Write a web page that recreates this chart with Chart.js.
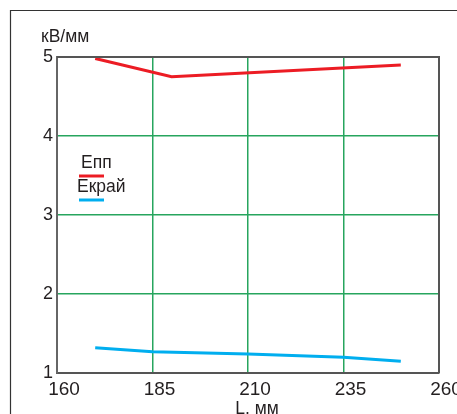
<!DOCTYPE html>
<html>
<head>
<meta charset="utf-8">
<script src="https://cdn.jsdelivr.net/npm/chart.js@4"></script>
<style>
html,body{margin:0;padding:0;background:#fff;}
#wrap{width:457px;height:414px;position:relative;}
</style>
</head>
<body>
<div id="wrap"><canvas id="c" width="457" height="414"></canvas></div>
<script>
// Data
const seriesNames = ['Епп', 'Екрай'];
const eppL = [170, 190, 250];
const eppValues = [4.98, 4.75, 4.90];
const ekrL = [170, 185, 210, 235, 250];
const ekrValues = [1.32, 1.27, 1.24, 1.20, 1.15];
const xTicks = [160, 185, 210, 235, 260];
const yTicks = [1, 2, 3, 4, 5];
const yUnit = 'кВ/мм';
const xTitle = 'L, мм';

const RED = '#ec1c24';
const BLUE = '#00aeef';
const GREEN = '#27a55e';
const FONT = "'Liberation Sans', Arial, sans-serif";

const toPts = (xs, ys) => xs.map((x, i) => ({x: x, y: ys[i]}));

const decor = {
  id: 'decor',
  beforeDraw(chart) {
    const ctx = chart.ctx;
    ctx.save();
    ctx.fillStyle = '#fff';
    ctx.fillRect(0, 0, chart.width, chart.height);
    // outer frame
    ctx.strokeStyle = '#333';
    ctx.lineWidth = 1.2;
    ctx.beginPath();
    ctx.moveTo(10.5, chart.height + 2);
    ctx.lineTo(10.5, 10.5);
    ctx.lineTo(chart.width + 2, 10.5);
    ctx.stroke();
    ctx.restore();
  },
  afterDatasetsDraw(chart) {
    const ctx = chart.ctx;
    const a = chart.chartArea;
    ctx.save();
    // top and right border
    ctx.strokeStyle = '#555';
    ctx.lineWidth = 2;
    ctx.beginPath();
    ctx.moveTo(a.left, a.top);
    ctx.lineTo(a.right, a.top);
    ctx.lineTo(a.right, a.bottom);
    ctx.stroke();
    // unit label
    ctx.fillStyle = '#231f20';
    ctx.font = '17.5px ' + FONT;
    ctx.textBaseline = 'alphabetic';
    ctx.textAlign = 'left';
    ctx.fillText(yUnit, 41, 42);
    // x title
    ctx.textAlign = 'center';
    ctx.fillText(xTitle, 257, 414);
    // legend
    const items = chart.data.datasets;
    const ly = [168, 192];
    items.forEach((ds, i) => {
      ctx.fillStyle = '#231f20';
      ctx.textAlign = 'left';
      ctx.font = '17.5px ' + FONT;
      ctx.fillText(ds.label, i === 0 ? 81 : 77, ly[i]);
      ctx.strokeStyle = ds.borderColor;
      ctx.lineWidth = 3;
      ctx.beginPath();
      ctx.moveTo(79, ly[i] + 8);
      ctx.lineTo(104, ly[i] + 8);
      ctx.stroke();
    });
    ctx.restore();
  }
};

const gridColor = (ctx) => {
  const v = ctx.tick ? ctx.tick.value : null;
  return (v === ctx.scale.min || v === ctx.scale.max) ? 'rgba(0,0,0,0)' : GREEN;
};

new Chart(document.getElementById('c'), {
  type: 'scatter',
  data: {
    datasets: [
      {label: seriesNames[0], data: toPts(eppL, eppValues), showLine: true, borderColor: RED, backgroundColor: RED, borderWidth: 3, pointRadius: 0, tension: 0},
      {label: seriesNames[1], data: toPts(ekrL, ekrValues), showLine: true, borderColor: BLUE, backgroundColor: BLUE, borderWidth: 3, pointRadius: 0, tension: 0}
    ]
  },
  options: {
    responsive: false,
    animation: false,
    devicePixelRatio: 1,
    layout: {padding: {left: 0, top: 57, right: 18, bottom: 0}},
    plugins: {legend: {display: false}, tooltip: {enabled: false}},
    scales: {
      x: {
        type: 'linear', min: 160, max: 260,
        afterBuildTicks(s) { s.ticks = xTicks.map(v => ({value: v})); },
        afterFit(s) { s.height = 41; s.paddingRight = 0; s.paddingLeft = 0; },
        ticks: {color: '#231f20', font: {family: FONT, size: 19}, padding: 5, labelOffset: 7, maxRotation: 0, autoSkip: false},
        grid: {color: gridColor, lineWidth: 1.5, drawTicks: false},
        border: {color: '#555', width: 2}
      },
      y: {
        type: 'linear', min: 1, max: 5,
        afterBuildTicks(s) { s.ticks = yTicks.map(v => ({value: v})); },
        afterFit(s) { s.width = 57; },
        ticks: {color: '#231f20', font: {family: FONT, size: 18}, padding: 4, autoSkip: false},
        grid: {color: gridColor, lineWidth: 1.5, drawTicks: false},
        border: {color: '#666', width: 2}
      }
    }
  },
  plugins: [decor]
});
</script>
</body>
</html>
